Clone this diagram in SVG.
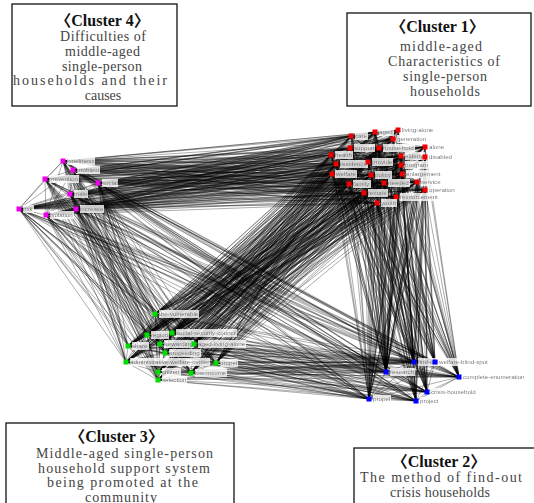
<svg xmlns="http://www.w3.org/2000/svg" width="534" height="503" viewBox="0 0 534 503">
<defs>
<style>
.e{fill:none;stroke:#000;stroke-opacity:.5;stroke-width:.65;stroke-linejoin:round}
.l{font-family:"Liberation Sans",Arial,sans-serif;font-size:6.2px;fill:#333;filter:url(#lb)}
.m{fill:#ee00ee}.r{fill:#f00000}.g{fill:#00dd00}.b{fill:#0000ff}
.box{fill:#fff;stroke:#111;stroke-width:1.3}
.t{font-family:"Liberation Serif","Noto Sans CJK KR",serif;font-size:16px;font-weight:bold;fill:#111;text-anchor:middle}
.d{font-family:"Liberation Serif","Noto Sans CJK KR",serif;font-size:14px;fill:#444;text-anchor:middle}
</style>
<filter id="lb" x="0" y="0" width="1" height="1"><feFlood flood-color="#fff" flood-opacity="0.8"/><feMerge><feMergeNode/><feMergeNode in="SourceGraphic"/></feMerge></filter>
</defs>
<rect width="534" height="503" fill="#fff"/>
<g id="connectors" class="e">
<path d="M63 161L351 136 73 170 375 132 63 161 398 130 73 170 393 139 63 161 350 148 73 170 379 148 63 161 425 147 73 170 331 155 63 161 401 156 73 170 425 157 63 161 336 164 73 170 368 162 63 161 401 165 73 170 332 174 63 161 371 175 73 170 402 174 63 161 349 184 73 170 384 183 63 161 417 182 73 170 364 193 63 161 425 190 73 170 396 197 63 161 377 203 73 170"/>
<path d="M45 179L351 136 98 183 375 132 45 179 398 130 98 183 393 139 45 179 350 148 98 183 379 148 45 179 425 147 98 183 331 155 45 179 401 156 98 183 425 157 45 179 336 164 98 183 368 162 45 179 401 165 98 183 332 174 45 179 371 175 98 183 402 174 45 179 349 184 98 183 384 183 45 179 417 182 98 183 364 193 45 179 425 190 98 183 396 197 45 179 377 203 98 183"/>
<path d="M70 194L351 136 19 209 375 132 70 194 398 130 19 209 393 139 70 194 350 148 19 209 379 148 70 194 425 147 19 209 331 155 70 194 401 156 19 209 425 157 70 194 336 164 19 209 368 162 70 194 401 165 19 209 332 174 70 194 371 175 19 209 402 174 70 194 349 184 19 209 384 183 70 194 417 182 19 209 364 193 70 194 425 190 19 209 396 197 70 194 377 203 19 209"/>
<path d="M76 209L351 136 46 215 375 132 76 209 398 130 46 215 393 139 76 209 350 148 46 215 379 148 76 209 425 147 46 215 331 155 76 209 401 156 46 215 425 157 76 209 336 164 46 215 368 162 76 209 401 165 46 215 332 174 76 209 371 175 46 215 402 174 76 209 349 184 46 215 384 183 76 209 417 182 46 215 364 193 76 209 425 190 46 215 396 197 76 209 377 203 46 215"/>
<path d="M63 161L155 314 73 170 147 335 63 161 172 333 73 170 128 346 63 161 160 344 73 170 194 344 63 161 165 353 73 170 126 362 63 161 216 363 73 170 158 372 63 161 191 373 73 170 158 380 63 161"/>
<path d="M45 179L155 314 98 183 147 335 45 179 172 333 98 183 128 346 45 179 160 344 98 183 194 344 45 179 165 353 98 183 126 362 45 179 216 363 98 183 158 372 45 179 191 373 98 183 158 380 45 179"/>
<path d="M70 194L155 314 19 209 147 335 70 194 172 333 19 209 128 346 70 194 160 344 19 209 194 344 70 194 165 353 19 209 126 362 70 194 216 363 19 209 158 372 70 194 191 373 19 209 158 380 70 194"/>
<path d="M76 209L155 314 46 215 147 335 76 209 172 333 46 215 128 346 76 209 160 344 46 215 194 344 76 209 165 353 46 215 126 362 76 209 216 363 46 215 158 372 76 209 191 373 46 215 158 380 76 209"/>
<path d="M63 161L414 362 73 170 435 362 63 161 386 372 73 170 459 377 63 161 427 392 73 170 369 399 63 161 416 401 73 170"/>
<path d="M45 179L414 362 98 183 435 362 45 179 386 372 98 183 459 377 45 179 427 392 98 183 369 399 45 179 416 401 98 183"/>
<path d="M70 194L414 362 19 209 435 362 70 194 386 372 19 209 459 377 70 194 427 392 19 209 369 399 70 194 416 401 19 209"/>
<path d="M76 209L414 362 46 215 435 362 76 209 386 372 46 215 459 377 76 209 427 392 46 215 369 399 76 209 416 401 46 215"/>
<path d="M155 314L351 136 147 335 375 132 155 314 398 130 147 335 393 139 155 314 350 148 147 335 379 148 155 314 425 147 147 335 331 155 155 314 401 156 147 335 425 157 155 314 336 164 147 335 368 162 155 314 401 165 147 335 332 174 155 314 371 175 147 335 402 174 155 314 349 184 147 335 384 183 155 314 417 182 147 335 364 193 155 314 425 190 147 335 396 197 155 314 377 203 147 335"/>
<path d="M172 333L351 136 128 346 375 132 172 333 398 130 128 346 393 139 172 333 350 148 128 346 379 148 172 333 425 147 128 346 331 155 172 333 401 156 128 346 425 157 172 333 336 164 128 346 368 162 172 333 401 165 128 346 332 174 172 333 371 175 128 346 402 174 172 333 349 184 128 346 384 183 172 333 417 182 128 346 364 193 172 333 425 190 128 346 396 197 172 333 377 203 128 346"/>
<path d="M160 344L351 136 194 344 375 132 160 344 398 130 194 344 393 139 160 344 350 148 194 344 379 148 160 344 425 147 194 344 331 155 160 344 401 156 194 344 425 157 160 344 336 164 194 344 368 162 160 344 401 165 194 344 332 174 160 344 371 175 194 344 402 174 160 344 349 184 194 344 384 183 160 344 417 182 194 344 364 193 160 344 425 190 194 344 396 197 160 344 377 203 194 344"/>
<path d="M165 353L351 136 126 362 375 132 165 353 398 130 126 362 393 139 165 353 350 148 126 362 379 148 165 353 425 147 126 362 331 155 165 353 401 156 126 362 425 157 165 353 336 164 126 362 368 162 165 353 401 165 126 362 332 174 165 353 371 175 126 362 402 174 165 353 349 184 126 362 384 183 165 353 417 182 126 362 364 193 165 353 425 190 126 362 396 197 165 353 377 203 126 362"/>
<path d="M216 363L351 136 158 372 375 132 216 363 398 130 158 372 393 139 216 363 350 148 158 372 379 148 216 363 425 147 158 372 331 155 216 363 401 156 158 372 425 157 216 363 336 164 158 372 368 162 216 363 401 165 158 372 332 174 216 363 371 175 158 372 402 174 216 363 349 184 158 372 384 183 216 363 417 182 158 372 364 193 216 363 425 190 158 372 396 197 216 363 377 203 158 372"/>
<path d="M191 373L351 136 158 380 375 132 191 373 398 130 158 380 393 139 191 373 350 148 158 380 379 148 191 373 425 147 158 380 331 155 191 373 401 156 158 380 425 157 191 373 336 164 158 380 368 162 191 373 401 165 158 380 332 174 191 373 371 175 158 380 402 174 191 373 349 184 158 380 384 183 191 373 417 182 158 380 364 193 191 373 425 190 158 380 396 197 191 373 377 203 158 380"/>
<path d="M414 362L351 136 435 362 375 132 414 362 398 130 435 362 393 139 414 362 350 148 435 362 379 148 414 362 425 147 435 362 331 155 414 362 401 156 435 362 425 157 414 362 336 164 435 362 368 162 414 362 401 165 435 362 332 174 414 362 371 175 435 362 402 174 414 362 349 184 435 362 384 183 414 362 417 182 435 362 364 193 414 362 425 190 435 362 396 197 414 362 377 203 435 362"/>
<path d="M386 372L351 136 459 377 375 132 386 372 398 130 459 377 393 139 386 372 350 148 459 377 379 148 386 372 425 147 459 377 331 155 386 372 401 156 459 377 425 157 386 372 336 164 459 377 368 162 386 372 401 165 459 377 332 174 386 372 371 175 459 377 402 174 386 372 349 184 459 377 384 183 386 372 417 182 459 377 364 193 386 372 425 190 459 377 396 197 386 372 377 203 459 377"/>
<path d="M427 392L351 136 369 399 375 132 427 392 398 130 369 399 393 139 427 392 350 148 369 399 379 148 427 392 425 147 369 399 331 155 427 392 401 156 369 399 425 157 427 392 336 164 369 399 368 162 427 392 401 165 369 399 332 174 427 392 371 175 369 399 402 174 427 392 349 184 369 399 384 183 427 392 417 182 369 399 364 193 427 392 425 190 369 399 396 197 427 392 377 203 369 399"/>
<path d="M416 401L351 136 386 372 375 132 416 401 398 130 386 372 393 139 416 401 350 148 386 372 379 148 416 401 425 147 386 372 331 155 416 401 401 156 386 372 425 157 416 401 336 164 386 372 368 162 416 401 401 165 386 372 332 174 416 401 371 175 386 372 402 174 416 401 349 184 386 372 384 183 416 401 417 182 386 372 364 193 416 401 425 190 386 372 396 197 416 401 377 203 386 372"/>
<path d="M155 314L414 362 147 335 435 362 155 314 386 372 147 335 459 377 155 314 427 392 147 335 369 399 155 314 416 401 147 335"/>
<path d="M172 333L414 362 128 346 435 362 172 333 386 372 128 346 459 377 172 333 427 392 128 346 369 399 172 333 416 401 128 346"/>
<path d="M160 344L414 362 194 344 435 362 160 344 386 372 194 344 459 377 160 344 427 392 194 344 369 399 160 344 416 401 194 344"/>
<path d="M165 353L414 362 126 362 435 362 165 353 386 372 126 362 459 377 165 353 427 392 126 362 369 399 165 353 416 401 126 362"/>
<path d="M216 363L414 362 158 372 435 362 216 363 386 372 158 372 459 377 216 363 427 392 158 372 369 399 216 363 416 401 158 372"/>
<path d="M191 373L414 362 158 380 435 362 191 373 386 372 158 380 459 377 191 373 427 392 158 380 369 399 191 373 416 401 158 380"/>
<path d="M63 161L45 179 73 170 98 183 63 161 70 194 73 170 19 209 63 161 76 209 73 170 46 215 63 161 73 170M45 179L70 194 98 183 19 209 45 179 76 209 98 183 46 215 45 179 98 183M70 194L76 209 19 209 46 215 70 194 19 209M76 209L46 215"/>
<path d="M155 314L172 333 147 335 128 346 155 314 160 344 147 335 194 344 155 314 165 353 147 335 126 362 155 314 216 363 147 335 158 372 155 314 191 373 147 335 158 380 155 314 147 335"/>
<path d="M172 333L160 344 128 346 194 344 172 333 165 353 128 346 126 362 172 333 216 363 128 346 158 372 172 333 191 373 128 346 158 380 172 333 128 346"/>
<path d="M160 344L165 353 194 344 126 362 160 344 216 363 194 344 158 372 160 344 191 373 194 344 158 380 160 344 194 344M165 353L216 363 126 362 158 372 165 353 191 373 126 362 158 380 165 353 126 362M216 363L191 373 158 372 158 380 216 363 158 372M191 373L158 380"/>
<path d="M414 362L386 372 435 362 459 377 414 362 427 392 435 362 369 399 414 362 416 401 435 362 414 362M386 372L427 392 459 377 369 399 386 372 416 401 459 377 386 372M427 392L416 401 369 399 427 392"/>
<path d="M351 136L375 132 350 148 398 130 351 136 393 139 350 148 425 147 351 136 401 156 350 148 425 157 351 136 401 165 350 148 402 174 351 136 417 182 350 148 425 190 351 136 396 197 350 148"/>
<path d="M331 155L375 132 336 164 398 130 331 155 393 139 336 164 425 147 331 155 401 156 336 164 425 157 331 155 401 165 336 164 402 174 331 155 417 182 336 164 425 190 331 155 396 197 336 164"/>
<path d="M332 174L375 132 349 184 398 130 332 174 393 139 349 184 425 147 332 174 401 156 349 184 425 157 332 174 401 165 349 184 402 174 332 174 417 182 349 184 425 190 332 174 396 197 349 184"/>
<path d="M368 162L375 132 371 175 398 130 368 162 393 139 371 175 425 147 368 162 401 156 371 175 425 157 368 162 401 165 371 175 402 174 368 162 417 182 371 175 425 190 368 162 396 197 371 175"/>
<path d="M379 148L375 132 384 183 398 130 379 148 393 139 384 183 425 147 379 148 401 156 384 183 425 157 379 148 401 165 384 183 402 174 379 148 417 182 384 183 425 190 379 148 396 197 384 183"/>
<path d="M364 193L375 132 377 203 398 130 364 193 393 139 377 203 425 147 364 193 401 156 377 203 425 157 364 193 401 165 377 203 402 174 364 193 417 182 377 203 425 190 364 193 396 197 377 203"/>
</g>
<g id="n-loneliness"><text class="l" x="67" y="163.2">loneliness</text><rect class="m" x="60.5" y="158.5" width="5" height="5"/></g>
<g id="n-problem"><text class="l" x="77" y="172.2">problem</text><rect class="m" x="70.5" y="167.5" width="5" height="5"/></g>
<g id="n-prevention"><text class="l" x="49" y="181.2">prevention</text><rect class="m" x="42.5" y="176.5" width="5" height="5"/></g>
<g id="n-social"><text class="l" x="102" y="185.2">social</text><rect class="m" x="95.5" y="180.5" width="5" height="5"/></g>
<g id="n-male"><text class="l" x="74" y="196.2">male</text><rect class="m" x="67.5" y="191.5" width="5" height="5"/></g>
<g id="n-risk"><text class="l" x="23" y="211.2">risk</text><rect class="m" x="16.5" y="206.5" width="5" height="5"/></g>
<g id="n-increase"><text class="l" x="80" y="211.2">increase</text><rect class="m" x="73.5" y="206.5" width="5" height="5"/></g>
<g id="n-isolation"><text class="l" x="50" y="217.2">isolation</text><rect class="m" x="43.5" y="212.5" width="5" height="5"/></g>
<g id="n-care"><text class="l" x="355" y="138.2">care</text><rect class="r" x="348.5" y="133.5" width="5" height="5"/></g>
<g id="n-aged"><text class="l" x="379" y="134.2">aged</text><rect class="r" x="372.5" y="129.5" width="5" height="5"/></g>
<g id="n-living-alone"><text class="l" x="402" y="132.2">living-alone</text><rect class="r" x="395.5" y="127.5" width="5" height="5"/></g>
<g id="n-generation"><text class="l" x="397" y="141.2">generation</text><rect class="r" x="390.5" y="136.5" width="5" height="5"/></g>
<g id="n-support"><text class="l" x="354" y="150.2">support</text><rect class="r" x="347.5" y="145.5" width="5" height="5"/></g>
<g id="n-house-hold"><text class="l" x="383" y="150.2">house-hold</text><rect class="r" x="376.5" y="145.5" width="5" height="5"/></g>
<g id="n-alone"><text class="l" x="429" y="149.2">alone</text><rect class="r" x="422.5" y="144.5" width="5" height="5"/></g>
<g id="n-health"><text class="l" x="335" y="157.2">health</text><rect class="r" x="328.5" y="152.5" width="5" height="5"/></g>
<g id="n-elderly"><text class="l" x="405" y="158.2">elderly</text><rect class="r" x="398.5" y="153.5" width="5" height="5"/></g>
<g id="n-disabled"><text class="l" x="429" y="159.2">disabled</text><rect class="r" x="422.5" y="154.5" width="5" height="5"/></g>
<g id="n-residence"><text class="l" x="340" y="166.2">residence</text><rect class="r" x="333.5" y="161.5" width="5" height="5"/></g>
<g id="n-provide"><text class="l" x="372" y="164.2">provide</text><rect class="r" x="365.5" y="159.5" width="5" height="5"/></g>
<g id="n-program"><text class="l" x="405" y="167.2">program</text><rect class="r" x="398.5" y="162.5" width="5" height="5"/></g>
<g id="n-welfare"><text class="l" x="336" y="176.2">welfare</text><rect class="r" x="329.5" y="171.5" width="5" height="5"/></g>
<g id="n-policy"><text class="l" x="375" y="177.2">policy</text><rect class="r" x="368.5" y="172.5" width="5" height="5"/></g>
<g id="n-enlargement"><text class="l" x="406" y="176.2">enlargement</text><rect class="r" x="399.5" y="171.5" width="5" height="5"/></g>
<g id="n-family"><text class="l" x="353" y="186.2">family</text><rect class="r" x="346.5" y="181.5" width="5" height="5"/></g>
<g id="n-needed"><text class="l" x="388" y="185.2">needed</text><rect class="r" x="381.5" y="180.5" width="5" height="5"/></g>
<g id="n-service"><text class="l" x="421" y="184.2">service</text><rect class="r" x="414.5" y="179.5" width="5" height="5"/></g>
<g id="n-female"><text class="l" x="368" y="195.2">female</text><rect class="r" x="361.5" y="190.5" width="5" height="5"/></g>
<g id="n-operation"><text class="l" x="429" y="192.2">operation</text><rect class="r" x="422.5" y="187.5" width="5" height="5"/></g>
<g id="n-reinforcement"><text class="l" x="400" y="199.2">reinforcement</text><rect class="r" x="393.5" y="194.5" width="5" height="5"/></g>
<g id="n-youth"><text class="l" x="381" y="205.2">youth</text><rect class="r" x="374.5" y="200.5" width="5" height="5"/></g>
<g id="n-the-vulnerable"><text class="l" x="159" y="316.2">the-vulnerable</text><rect class="g" x="152.5" y="311.5" width="5" height="5"/></g>
<g id="n-region"><text class="l" x="151" y="337.2">region</text><rect class="g" x="144.5" y="332.5" width="5" height="5"/></g>
<g id="n-social-security-council"><text class="l" x="176" y="335.2">social-security-council</text><rect class="g" x="169.5" y="330.5" width="5" height="5"/></g>
<g id="n-share"><text class="l" x="132" y="348.2">share</text><rect class="g" x="125.5" y="343.5" width="5" height="5"/></g>
<g id="n-forwarding"><text class="l" x="164" y="346.2">forwarding</text><rect class="g" x="157.5" y="341.5" width="5" height="5"/></g>
<g id="n-aged-living-alone"><text class="l" x="198" y="346.2">aged-living-alone</text><rect class="g" x="191.5" y="341.5" width="5" height="5"/></g>
<g id="n-proceeding"><text class="l" x="169" y="355.2">proceeding</text><rect class="g" x="162.5" y="350.5" width="5" height="5"/></g>
<g id="n-administrative-welfare-center"><text class="l" x="130" y="364.2">administrative-welfare-center</text><rect class="g" x="123.5" y="359.5" width="5" height="5"/></g>
<g id="n-propel-g"><text class="l" x="220" y="365.2">propel</text><rect class="g" x="213.5" y="360.5" width="5" height="5"/></g>
<g id="n-citizen"><text class="l" x="162" y="374.2">citizen</text><rect class="g" x="155.5" y="369.5" width="5" height="5"/></g>
<g id="n-low-income"><text class="l" x="195" y="375.2">low-income</text><rect class="g" x="188.5" y="370.5" width="5" height="5"/></g>
<g id="n-selection"><text class="l" x="162" y="382.2">selection</text><rect class="g" x="155.5" y="377.5" width="5" height="5"/></g>
<g id="n-find-out"><text class="l" x="418" y="364.2">find-out</text><rect class="b" x="411.5" y="359.5" width="5" height="5"/></g>
<g id="n-welfare-blind-spot"><text class="l" x="439" y="364.2">welfare-blind-spot</text><rect class="b" x="432.5" y="359.5" width="5" height="5"/></g>
<g id="n-research"><text class="l" x="390" y="374.2">research</text><rect class="b" x="383.5" y="369.5" width="5" height="5"/></g>
<g id="n-complete-enumeration"><text class="l" x="463" y="379.2">complete-enumeration</text><rect class="b" x="456.5" y="374.5" width="5" height="5"/></g>
<g id="n-crisis-household"><text class="l" x="431" y="394.2">crisis-household</text><rect class="b" x="424.5" y="389.5" width="5" height="5"/></g>
<g id="n-propel-b"><text class="l" x="373" y="401.2">propel</text><rect class="b" x="366.5" y="396.5" width="5" height="5"/></g>
<g id="n-project"><text class="l" x="420" y="403.2">project</text><rect class="b" x="413.5" y="398.5" width="5" height="5"/></g>
<g id="cluster4">
<rect class="box" x="12" y="4" width="165" height="102"/>
<text class="t" x="102.5" y="26">〈Cluster 4〉</text>
<text class="d" x="103" y="40.5" textLength="86">Difficulties of</text>
<text class="d" x="102.5" y="55.5" textLength="75">middle-aged</text>
<text class="d" x="102" y="70.5" textLength="80">single-person</text>
<text class="d" x="90" y="85" textLength="154">households and their</text>
<text class="d" x="103" y="99.5">causes</text>
</g>
<g id="cluster1">
<rect class="box" x="347" y="13" width="184" height="93"/>
<text class="t" x="437.5" y="32">〈Cluster 1〉</text>
<text class="d" x="441" y="50.5" textLength="82">middle-aged</text>
<text class="d" x="444" y="65.5" textLength="112">Characteristics of</text>
<text class="d" x="445" y="80.5" textLength="84">single-person</text>
<text class="d" x="445" y="96" textLength="70">households</text>
</g>
<g id="cluster3">
<rect class="box" x="6" y="423" width="228" height="90"/>
<text class="t" x="116.5" y="442">〈Cluster 3〉</text>
<text class="d" x="124.5" y="458" textLength="177">Middle-aged single-person</text>
<text class="d" x="124" y="472.5" textLength="172">household support system</text>
<text class="d" x="122.5" y="487" textLength="151">being promoted at the</text>
<text class="d" x="121" y="501.5" textLength="72">community</text>
</g>
<g id="cluster2">
<rect class="box" x="354" y="448" width="190" height="60"/>
<text class="t" x="439" y="467">〈Cluster 2〉</text>
<text class="d" x="441" y="482" textLength="162">The method of find-out</text>
<text class="d" x="440" y="497" textLength="100">crisis households</text>
</g>
</svg>
